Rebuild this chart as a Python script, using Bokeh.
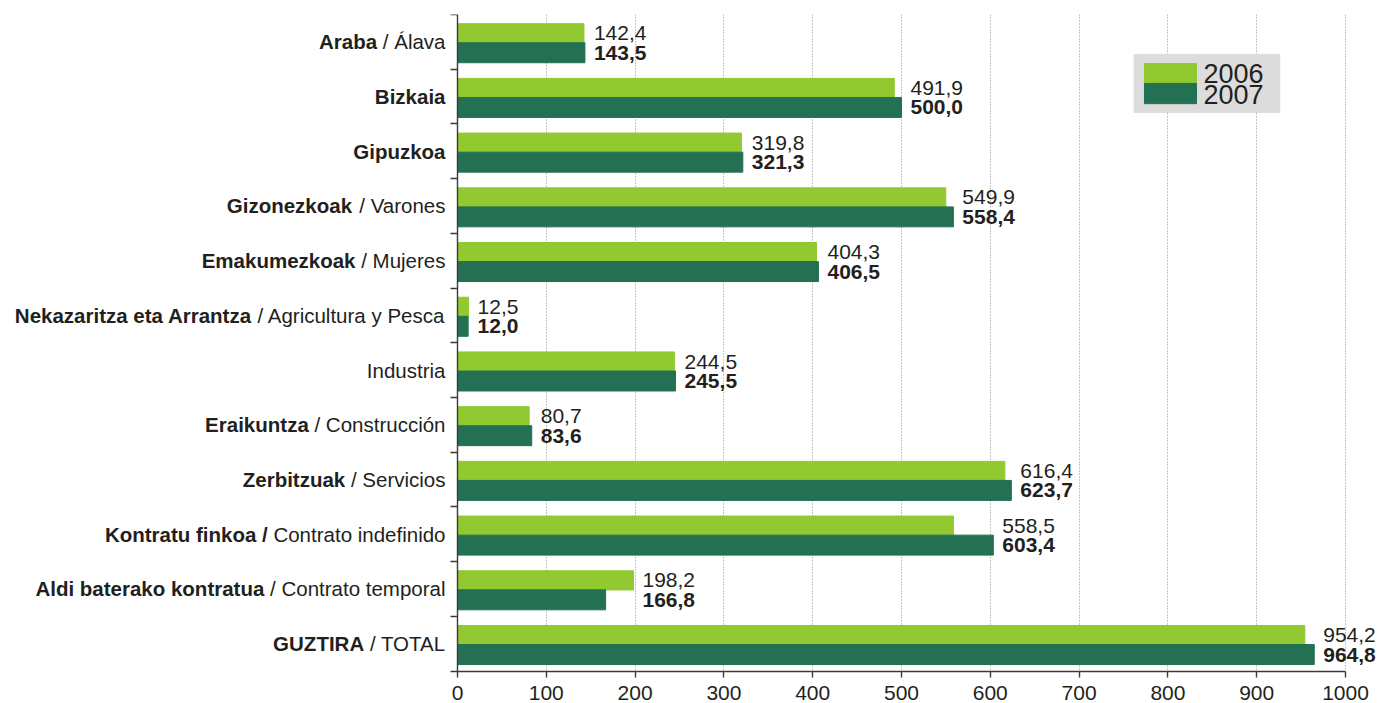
import numpy as np
from bokeh.plotting import figure
from bokeh.models import ColumnDataSource, Range1d, FixedTicker
from bokeh.core.properties import value
from bokeh.embed import file_html
from bokeh.resources import INLINE

# ---------------- data ----------------
bold_parts = ["Araba", "Bizkaia", "Gipuzkoa", "Gizonezkoak", "Emakumezkoak",
              "Nekazaritza eta Arrantza", "", "Eraikuntza", "Zerbitzuak",
              "Kontratu finkoa /", "Aldi baterako kontratua", "GUZTIRA"]
normal_parts = ["/ Álava", "", "", "/ Varones", "/ Mujeres",
                "/ Agricultura y Pesca", "Industria", "/ Construcción", "/ Servicios",
                "Contrato indefinido", "/ Contrato temporal", "/ TOTAL"]
v2006 = [142.4, 491.9, 319.8, 549.9, 404.3, 12.5, 244.5, 80.7, 616.4, 558.5, 198.2, 954.2]
v2007 = [143.5, 500.0, 321.3, 558.4, 406.5, 12.0, 245.5, 83.6, 623.7, 603.4, 166.8, 964.8]
series = ["2006", "2007"]
x_ticks = [0, 100, 200, 300, 400, 500, 600, 700, 800, 900, 1000]

C06 = "#92c830"
C07 = "#237053"
TXT = "#231f20"
FONT = "Liberation Sans"
FS_CAT = 20.5
FS_VAL = 21

# Arial / Liberation Sans advance widths (1/1000 em)
REG = dict(zip(" ,./0123456789", [278, 278, 278, 278] + [556] * 10))
REG.update(dict(zip("ABCDEFGHIJKLMNOPQRSTUVWXYZ",
                    [667, 667, 722, 722, 667, 611, 778, 722, 278, 500, 667, 556, 833,
                     722, 778, 667, 778, 722, 667, 611, 722, 667, 944, 667, 667, 611])))
REG.update(dict(zip("abcdefghijklmnopqrstuvwxyz",
                    [556, 556, 500, 556, 556, 278, 556, 556, 222, 222, 500, 222, 833,
                     556, 556, 556, 556, 333, 500, 278, 556, 500, 722, 500, 500, 500])))
REG.update({"Á": 667, "ó": 556})
KERN = {("T", "A"): -74, ("A", "T"): -74, (" ", "T"): -18}


def text_width(s, fs):
    w = sum(REG.get(ch, 556) for ch in s)
    w += sum(KERN.get((a, b), 0) for a, b in zip(s, s[1:]))
    return w / 1000.0 * fs


n = len(v2006)
idx = np.arange(n)
src = ColumnDataSource(dict(
    y06=idx + 0.343, y07=idx + 0.699,
    v06=v2006, v07=v2007,
    xl=np.maximum(v2006, v2007),
    t06=[f"{v:.1f}".replace(".", ",") for v in v2006],
    t07=[f"{v:.1f}".replace(".", ",") for v in v2007],
))

LAB_GAP = 12
norm_off = [-LAB_GAP] * n
bold_off = [-(LAB_GAP + (text_width(nm, FS_CAT) + text_width(" ", FS_CAT) if nm else 0))
            for nm in normal_parts]
lab_src = ColumnDataSource(dict(
    y=idx + 0.5, x0=[0] * n,
    normal=normal_parts, bold=bold_parts,
    noff=norm_off, boff=bold_off,
))

# frame spans the whole figure; value 0 sits at 457 px, 1000 at 1345 px
W, H = 1380, 703
TOP = 14
PX_X = 0.888                      # px per unit along x
PX_Y = (670.5 - TOP) / n          # px per category row
x_start = -457 / PX_X
x_end = (W - 457) / PX_X
y_start = n + (H - 670.5) / PX_Y

p = figure(width=W, height=H, output_backend="svg", toolbar_location=None,
           x_range=Range1d(x_start, x_end), y_range=Range1d(y_start, 0),
           min_border_left=0, min_border_right=0, min_border_top=TOP, min_border_bottom=0)
p.outline_line_color = None
p.background_fill_color = "white"
p.border_fill_color = "white"

p.hbar(y="y06", right="v06", left=0, height=0.35, color=C06, source=src)
p.hbar(y="y07", right="v07", left=0, height=0.365, color=C07, source=src)

# value labels
p.text(x="xl", y="y06", text="t06", source=src, x_offset=9,
       text_align="left", text_baseline="middle",
       text_font=value(FONT), text_font_size=f"{FS_VAL}px", text_color=TXT)
p.text(x="xl", y="y07", text="t07", source=src, x_offset=9,
       text_align="left", text_baseline="middle",
       text_font=value(FONT), text_font_size=f"{FS_VAL}px", text_color=TXT,
       text_font_style="bold")

# category labels (bold + normal parts)
p.text(x="x0", y="y", text="normal", x_offset="noff", source=lab_src,
       text_align="right", text_baseline="middle",
       text_font=value(FONT), text_font_size=f"{FS_CAT}px", text_color=TXT)
p.text(x="x0", y="y", text="bold", x_offset="boff", source=lab_src,
       text_align="right", text_baseline="middle",
       text_font=value(FONT), text_font_size=f"{FS_CAT}px", text_color=TXT,
       text_font_style="bold")

# axes
p.xaxis.fixed_location = n
p.xaxis.ticker = FixedTicker(ticks=x_ticks)
p.xaxis.bounds = (0, 1000)
p.xaxis.major_tick_in = 0
p.xaxis.major_tick_out = 6
p.xaxis.minor_tick_line_color = None
p.xaxis.axis_line_color = "#3a3a3a"
p.xaxis.axis_line_width = 1.4
p.xaxis.major_tick_line_color = "#3a3a3a"
p.xaxis.major_tick_line_width = 1.4
p.xaxis.major_label_text_font = FONT
p.xaxis.major_label_text_font_size = f"{FS_VAL}px"
p.xaxis.major_label_text_color = TXT
p.xaxis.major_label_standoff = 9

p.yaxis.fixed_location = 0
p.yaxis.bounds = (0, n)
p.yaxis.ticker = FixedTicker(ticks=list(range(n + 1)))
p.yaxis.major_label_overrides = {i: "" for i in range(n + 1)}
p.yaxis.major_tick_in = 0
p.yaxis.major_tick_out = 7
p.yaxis.minor_tick_line_color = None
p.yaxis.axis_line_color = "#3a3a3a"
p.yaxis.axis_line_width = 1.4
p.yaxis.major_tick_line_color = "#3a3a3a"
p.yaxis.major_tick_line_width = 1.4

p.ygrid.grid_line_color = None
p.xgrid.grid_line_color = "#8a8a8a"
p.xgrid.grid_line_dash = "1 2"
p.xgrid.grid_line_width = 1
p.xgrid.cross_bounds = (0, n)

# legend (custom, inside plot area)
p.quad(left=762, right=926, top=0.73, bottom=1.79, color="#dcdcdc")
p.quad(left=773.6, right=832.2, top=0.896, bottom=1.26, color=C06)
p.quad(left=773.6, right=832.2, top=1.26, bottom=1.63, color=C07)
p.text(x=[840, 840], y=[1.07, 1.46], text=series, text_align="left", text_baseline="middle",
       text_font=value(FONT), text_font_size="27px", text_color=TXT)

open("out.html", "w").write(file_html(p, INLINE))
